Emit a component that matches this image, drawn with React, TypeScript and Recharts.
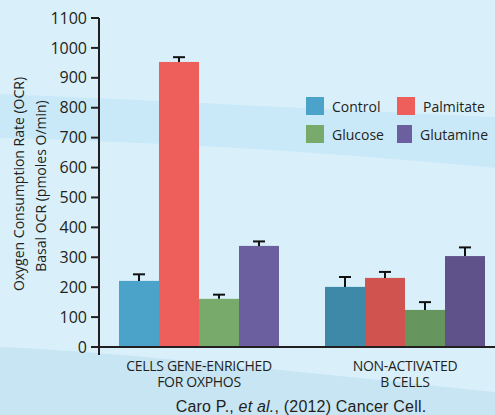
import React from "react";
import { BarChart, Bar, XAxis, YAxis, Cell, Legend, Customized } from "recharts";

const categories = ["CELLS GENE-ENRICHED|FOR OXPHOS", "NON-ACTIVATED|B CELLS"];
const seriesNames = ["Control", "Palmitate", "Glucose", "Glutamine"];
const control = [221, 201];
const controlErr = [22, 33];
const palmitate = [953, 231];
const palmitateErr = [16, 20];
const glucose = [161, 124];
const glucoseErr = [14, 26];
const glutamine = [338, 304];
const glutamineErr = [15, 29];
const yTicks = [0, 100, 200, 300, 400, 500, 600, 700, 800, 900, 1000, 1100];

const colorsGroup1 = ["#4ba3c9", "#ee5f5b", "#78ab6b", "#6c5f9f"];
const colorsGroup2 = ["#3e88a8", "#d05350", "#66965d", "#5f5189"];

const keys = ["control", "palmitate", "glucose", "glutamine"];
const values = [control, palmitate, glucose, glutamine];
const errs = [controlErr, palmitateErr, glucoseErr, glutamineErr];

const data = categories.map((c, i) => {
  const row: any = { name: c };
  keys.forEach((k, j) => {
    row[k] = values[j][i];
    row[k + "Err"] = errs[j][i];
  });
  return row;
});

const INK = "#231f20";
const FONT = "'Open Sans', sans-serif";

const makeShape = (errKey: string, valKey: string) => (props: any) => {
  const { x, y, width, height, fill, payload } = props;
  const v = payload[valKey];
  const e = payload[errKey];
  const pxPerUnit = v ? height / v : 0;
  const capY = y - e * pxPerUnit;
  const cx = x + width / 2;
  return (
    <g>
      <rect x={x} y={y} width={width} height={height} fill={fill} />
      <line x1={cx} y1={y} x2={cx} y2={capY} stroke="#111" strokeWidth={2} />
      <line x1={cx - 6} y1={capY} x2={cx + 6} y2={capY} stroke="#111" strokeWidth={2} />
    </g>
  );
};

const XTick = (props: any) => {
  const { x, y, payload } = props;
  const lines = String(payload.value).split("|");
  return (
    <text x={x} y={y + 16} textAnchor="middle" fontSize={14} fill={INK} fontFamily={FONT} letterSpacing={-0.3}>
      {lines.map((l: string, i: number) => (
        <tspan key={i} x={x} dy={i === 0 ? 0 : 16}>
          {l}
        </tspan>
      ))}
    </text>
  );
};

const YLabel = () => (
  <g>
    <text transform="translate(18,184) rotate(-90)" textAnchor="middle" dominantBaseline="central" fontSize={14} fill={INK} fontFamily={FONT}>
      Oxygen Consumption Rate (OCR)
    </text>
    <text transform="translate(40,186) rotate(-90)" textAnchor="middle" dominantBaseline="central" fontSize={14} fill={INK} fontFamily={FONT}>
      Basal OCR (pmoles O/min)
    </text>
  </g>
);

const AxisStub = () => <line x1={99} y1={346} x2={99} y2={355} stroke={INK} strokeWidth={2} />;

const LegendContent = (props: any) => {
  const { payload } = props;
  const items = [...(payload || [])].sort((a: any, b: any) => keys.indexOf(a.dataKey) - keys.indexOf(b.dataKey));
  return (
    <div style={{ display: "grid", gridTemplateColumns: "91px 91px", rowGap: 10, fontFamily: FONT, fontSize: 14, color: INK }}>
      {items.map((p: any) => (
        <div key={p.value} style={{ display: "flex", alignItems: "center", height: 18 }}>
          <div style={{ width: 18, height: 18, background: p.color, marginRight: 8 }} />
          <span>{p.value}</span>
        </div>
      ))}
    </div>
  );
};

export default function App() {
  return (
    <div style={{ position: "fixed", left: 0, top: 0, width: 495, height: 415, overflow: "hidden", background: "#d9f0fb" }}>
      <svg width={495} height={415} style={{ position: "absolute", left: 0, top: 0 }}>
        <rect x={0} y={0} width={495} height={415} fill="#d9f0fb" />
        <path d="M0,94 C160,100 330,110 495,117 L495,168 C330,152 160,142 0,138 Z" fill="#cae9f8" />
        <path d="M0,347 C120,352 300,372 495,392 L495,415 L0,415 Z" fill="#c8e5f4" />
      </svg>
      <div style={{ position: "absolute", left: 0, top: 0 }}>
        <BarChart width={508} height={415} data={data} margin={{ top: 18, right: 0, bottom: 38, left: 0 }} barGap={0} barSize={40}>
          <YAxis
            width={99}
            domain={[0, 1100]}
            ticks={yTicks}
            interval={0}
            tickSize={8}
            tickMargin={4}
            axisLine={{ stroke: INK, strokeWidth: 2 }}
            tickLine={{ stroke: INK, strokeWidth: 2 }}
            tick={{ fontSize: 16, fill: INK, fontFamily: FONT }}
          />
          <XAxis
            dataKey="name"
            height={30}
            padding={{ left: -3, right: 0 }}
            axisLine={{ stroke: INK, strokeWidth: 2 }}
            tickLine={false}
            tick={<XTick />}
            interval={0}
          />
          {keys.map((k, j) => (
            <Bar key={k} dataKey={k} name={seriesNames[j]} fill={colorsGroup1[j]} isAnimationActive={false} shape={makeShape(k + "Err", k)}>
              {data.map((_, i) => (
                <Cell key={i} fill={i === 0 ? colorsGroup1[j] : colorsGroup2[j]} />
              ))}
            </Bar>
          ))}
          <Legend
            layout="vertical"
            verticalAlign="middle"
            align="center"
            itemSorter={(item: any) => keys.indexOf(item.dataKey)}
            wrapperStyle={{ position: "absolute", left: 306, top: 97, width: 200 }}
            content={<LegendContent />}
          />
          <Customized component={YLabel} />
          <Customized component={AxisStub} />
        </BarChart>
      </div>
      <div style={{ position: "absolute", left: 0, width: 602, top: 399, textAlign: "center", fontFamily: "'Liberation Sans', Arial, sans-serif", fontSize: 16, letterSpacing: 0.2, color: INK, whiteSpace: "nowrap", lineHeight: "16px" }}>
        Caro P., <i>et al.</i>, (2012) Cancer Cell.
      </div>
    </div>
  );
}
